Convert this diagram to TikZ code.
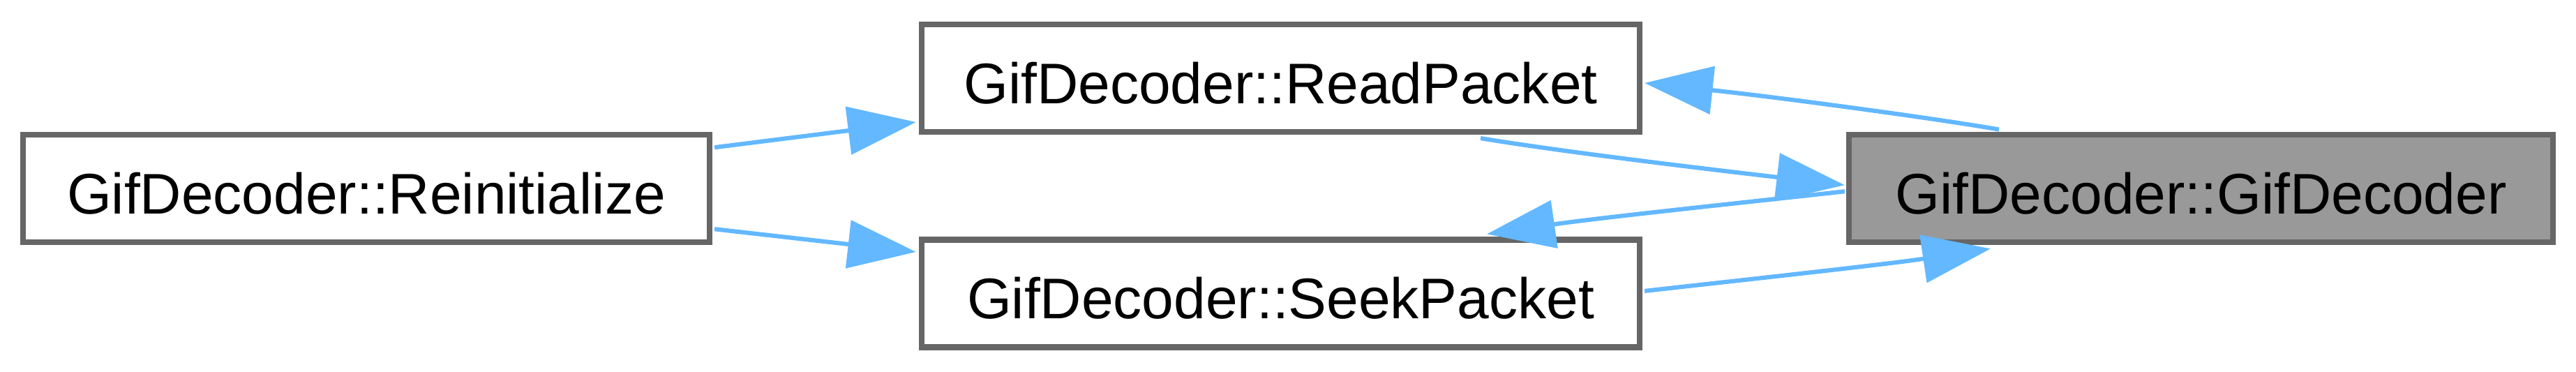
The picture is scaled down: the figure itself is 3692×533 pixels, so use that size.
\documentclass[tikz,border=0pt]{standalone}
\usepackage{fontspec}
\setmainfont{Liberation Sans}
\usetikzlibrary{arrows.meta,calc}
\definecolor{edgeblue}{HTML}{63B8FF}
\definecolor{boxstroke}{HTML}{666666}
\definecolor{curfill}{HTML}{999999}
\begin{document}
\begin{tikzpicture}[x=0.1218pt,y=-0.1218pt,
  fn/.style={draw=boxstroke, line width=1pt, fill=white, rectangle, inner sep=0pt,
    text height=8.8pt, text depth=0pt, minimum height=18.76pt,
    font=\fontsize{10pt}{12pt}\selectfont},
  cur/.style={fn, fill=curfill},
  link/.style={draw=edgeblue, line width=0.75pt, -{Triangle[length=11.9pt,width=8.3pt]}}]
\useasboundingbox (0,0) rectangle (3692,533);
\node[fn, minimum width=119.85pt] (reinit) at (525,270.25) {GifDecoder::Reinitialize};
\node[fn, minimum width=125.33pt] (rp) at (1835.5,112) {GifDecoder::ReadPacket};
\node[fn, minimum width=125.33pt] (sp) at (1835.5,420.5) {GifDecoder::SeekPacket};
\node[cur, minimum width=122.9pt] (gd) at (3154.5,270.25) {GifDecoder::GifDecoder};
\draw[link] ($(reinit.east)+(3,-59)$) -- ($(rp.west)+(-4,63)$);
\draw[link] ($(reinit.east)+(3,58)$) -- ($(sp.west)+(-4,-59.5)$);
\draw[link] ($(gd.north)+(-289.5,-3.5)$) .. controls ($(gd.north)+(-374.5,-18.5)$) and ($(rp.east)+(200,28)$) .. ($(rp.east)+(3,7)$);
\draw[link] ($(rp.south)+(286.5,5)$) .. controls ($(rp.south)+(414.5,26)$) and ($(gd.west)+(-190,-27)$) .. ($(gd.west)+(-2,-5)$);
\draw[link] ($(gd.west)+(-2,4)$) .. controls ($(gd.west)+(-100,15)$) and ($(sp.north)+(464.5,-28.5)$) .. ($(sp.north)+(295.5,-4)$);
\draw[link] ($(sp.east)+(3,-3.5)$) .. controls ($(sp.east)+(100,-14.5)$) and ($(gd.south)+(-454.5,28)$) .. ($(gd.south)+(-301.5,5)$);
\end{tikzpicture}
\end{document}
